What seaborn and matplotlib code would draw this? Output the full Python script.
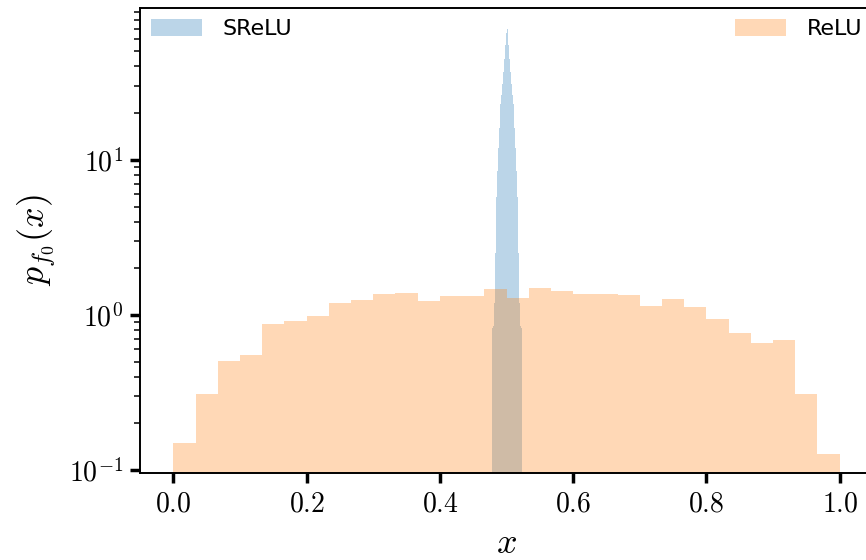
import numpy as np
import pandas as pd
import seaborn as sns
import matplotlib
matplotlib.use("Agg")
import matplotlib.pyplot as plt
from matplotlib.patches import Patch
from matplotlib.ticker import FuncFormatter

# ReLU: 30 bins on [0, 1], density per bin
relu_density = [0.150, 0.308, 0.505, 0.552, 0.871, 0.910, 0.985, 1.19, 1.24, 1.37,
                1.38, 1.23, 1.33, 1.33, 1.47, 1.29, 1.49, 1.43, 1.37, 1.37,
                1.35, 1.14, 1.27, 1.13, 0.94, 0.77, 0.66, 0.69, 0.31, 0.127]

# SReLU: narrow spike around 0.5, bins of width 0.0015 from 0.4775 to 0.5225
srelu_edges = [0.4775 + 0.0015 * i for i in range(31)]
srelu_density = [0.82, 0.85, 1.2, 2.5, 5.8, 8.5, 12, 16, 23, 26, 31, 37, 45, 55, 66,
                 70, 55, 45, 37, 31, 26, 23, 16, 12, 8.5, 5.8, 2.5, 1.2, 0.85, 0.82]

relu_df = pd.DataFrame({"x": (np.arange(30) + 0.5) / 30, "w": relu_density})
srelu_df = pd.DataFrame({"x": [(a + b) / 2 for a, b in zip(srelu_edges[:-1], srelu_edges[1:])],
                         "w": srelu_density})

sns.set_style("ticks", {"axes.edgecolor": "black", "xtick.color": "black",
                        "ytick.color": "black", "text.color": "black",
                        "axes.labelcolor": "black"})
plt.rcParams["mathtext.fontset"] = "cm"

fig = plt.figure(figsize=(8.66, 5.6), dpi=100)
ax = fig.add_axes([0.1617, 0.155, 0.8464, 0.831])

blue = "#1f77b4"
orange = "#ff7f0e"

sns.histplot(data=srelu_df, x="x", weights="w", bins=srelu_edges, stat="count",
             color=blue, alpha=0.3, linewidth=0, edgecolor="none", legend=False, ax=ax)
sns.histplot(data=relu_df, x="x", weights="w", bins=30, binrange=(0, 1), stat="count",
             color=orange, alpha=0.3, linewidth=0, edgecolor="none", legend=False, ax=ax)

ax.set_yscale("log")
ax.set_ylim(10 ** -1.02, 10 ** 1.98)
ax.set_xlim(-0.05, 1.05)
ax.set_xticks([0.0, 0.2, 0.4, 0.6, 0.8, 1.0])
ax.xaxis.set_major_formatter(FuncFormatter(lambda v, p: f"${v:.1f}$"))
ax.yaxis.set_major_formatter(FuncFormatter(lambda v, p: f"$10^{{{int(round(np.log10(v)))}}}$"))

ax.spines["right"].set_visible(False)
for s in ["left", "top", "bottom"]:
    ax.spines[s].set_linewidth(1.4)
ax.tick_params(axis="both", which="major", labelsize=20, length=7, width=2.5, pad=5)
ax.tick_params(axis="y", which="minor", length=4, width=1.1)

ax.set_xlabel("$x$", fontsize=26, labelpad=6)
ax.set_ylabel("$p_{f_0}(x)$", fontsize=26, labelpad=8)

h1 = Patch(facecolor=blue, alpha=0.3, edgecolor="none")
h2 = Patch(facecolor=orange, alpha=0.3, edgecolor="none")
leg_kw = dict(frameon=False, fontsize=16, borderaxespad=0.1, handlelength=2.3,
              handleheight=0.8, handletextpad=0.9)
leg1 = ax.legend(handles=[h1], labels=["SReLU"], loc="upper left", **leg_kw)
ax.add_artist(leg1)
ax.legend(handles=[h2], labels=["ReLU"], loc="upper right", **leg_kw)

plt.savefig("out.png", dpi=100)
plt.close()
